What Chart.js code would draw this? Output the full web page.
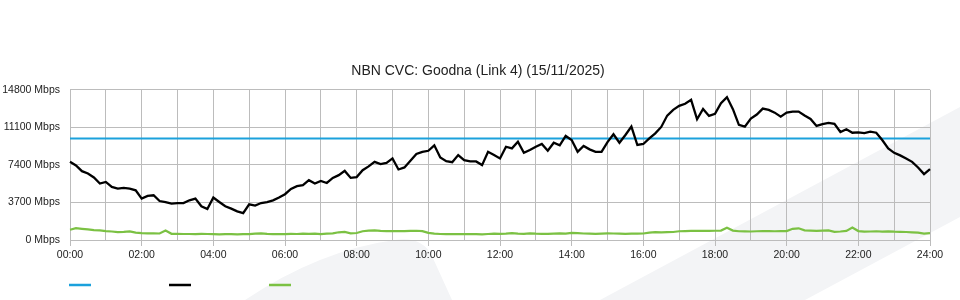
<!DOCTYPE html>
<html>
<head>
<meta charset="utf-8">
<title>NBN CVC: Goodna (Link 4)</title>
<script src="https://cdn.jsdelivr.net/npm/chart.js@4.4.1/dist/chart.umd.min.js"></script>
<style>
    html, body { margin: 0; padding: 0; background: #fff; }
    #wrap { width: 960px; height: 300px; position: relative; }
</style>
</head>
<body>
<div id="wrap"><canvas id="cvcChart"></canvas></div>
<script>
// 10 minute samples, 00:00 -> 24:00
let times = [];
for (let m = 0; m <= 24 * 60; m += 10) {
    times.push(String(Math.floor(m / 60)).padStart(2, '0') + ':' + String(m % 60).padStart(2, '0'));
}

let yTicks = [0, 3700, 7400, 11100, 14800];

// provisioned CVC capacity (Mbps)
let capacity = [{ x: '00:00', y: 10000 }, { x: '24:00', y: 10000 }];

// download traffic (Mbps)
let trafficIn = [
    7700, 7350, 6780, 6550, 6160, 5560, 5720, 5230, 5070, 5130,
    5070, 4900, 4080, 4340, 4410, 3840, 3740, 3580, 3640, 3640,
    3910, 4080, 3320, 3050, 4180, 3740, 3320, 3090, 2820, 2650,
    3520, 3390, 3640, 3740, 3910, 4180, 4510, 5030, 5300, 5400,
    5890, 5560, 5820, 5620, 6120, 6390, 6810, 6120, 6200, 6880,
    7250, 7700, 7480, 7600, 8040, 6950, 7150, 7800, 8470, 8690,
    8790, 9330, 8140, 7770, 7670, 8370, 7870, 7740, 7740, 7380,
    8690, 8370, 8040, 9190, 9030, 9680, 8590, 8860, 9190, 9460,
    8790, 9580, 9330, 10250, 9850, 8690, 9260, 8930, 8690, 8690,
    9650, 10420, 9580, 10350, 11170, 9360, 9460, 10020, 10510, 11140,
    12260, 12820, 13220, 13420, 13810, 11900, 12920, 12230, 12430, 13480,
    14080, 12890, 11340, 11170, 11960, 12360, 12950, 12820, 12550, 12160,
    12550, 12650, 12650, 12260, 11930, 11240, 11410, 11530, 11440, 10640,
    10910, 10570, 10610, 10540, 10670, 10570, 9850, 9030, 8590, 8340,
    8040, 7700, 7150, 6490, 6980
];

// upload traffic (Mbps)
let trafficOut = [
    1010, 1160, 1100, 1040, 980, 940, 880, 840, 780, 800,
    840, 720, 680, 660, 650, 640, 930, 610, 600, 590,
    590, 580, 600, 590, 570, 560, 570, 580, 560, 570,
    580, 620, 660, 600, 570, 580, 570, 600, 590, 620,
    600, 630, 580, 620, 650, 760, 800, 660, 690, 860,
    930, 940, 900, 880, 880, 870, 880, 900, 910, 870,
    700, 620, 590, 580, 570, 580, 590, 580, 570, 560,
    590, 620, 610, 620, 680, 630, 600, 650, 620, 610,
    600, 630, 650, 630, 700, 680, 640, 620, 600, 620,
    650, 640, 620, 610, 620, 630, 640, 720, 770, 760,
    780, 790, 860, 880, 900, 900, 890, 900, 910, 930,
    1200, 930, 860, 850, 840, 860, 880, 870, 860, 870,
    880, 1100, 1150, 950, 920, 900, 930, 940, 800, 840,
    900, 1220, 880, 820, 840, 860, 830, 850, 820, 810,
    790, 760, 720, 620, 680
];

let gridColor = '#bcbcbc';
let textColor = '#222';
let fontFamily = '"Liberation Sans", Arial, Helvetica, sans-serif';

// faint logo swoosh behind the plot
let backdrop = {
    id: 'backdrop',
    beforeDraw: function(chart) {
        let ctx = chart.ctx;
        ctx.save();
        ctx.fillStyle = '#f3f4f6';
        ctx.beginPath();
        ctx.moveTo(245, 300);
        ctx.quadraticCurveTo(320, 250, 395, 240);
        ctx.quadraticCurveTo(422, 236, 432, 256);
        ctx.lineTo(452, 300);
        ctx.closePath();
        ctx.fill();
        ctx.beginPath();
        ctx.moveTo(600, 300);
        ctx.lineTo(960, 107);
        ctx.lineTo(960, 217);
        ctx.lineTo(805, 300);
        ctx.closePath();
        ctx.fill();
        ctx.restore();
    }
};

// legend is just three colour swatches with no text
let swatches = {
    id: 'swatches',
    afterDraw: function(chart) {
        let ctx = chart.ctx;
        let x = chart.chartArea.left - 1;
        ctx.save();
        ctx.lineWidth = 2.5;
        chart.data.datasets.forEach(function(ds, i) {
            ctx.strokeStyle = ds.borderColor;
            ctx.beginPath();
            ctx.moveTo(x + i * 100, 285);
            ctx.lineTo(x + i * 100 + 22, 285);
            ctx.stroke();
        });
        ctx.restore();
    }
};

let ctx = document.getElementById('cvcChart').getContext('2d');
let chart = new Chart(ctx, {
    type: 'line',
    data: {
        labels: times,
        datasets: [
            { data: capacity, borderColor: '#1ba1dc', borderWidth: 2, order: 1 },
            { data: trafficIn, borderColor: '#000000', borderWidth: 2.3, order: 0 },
            { data: trafficOut, borderColor: '#7bc143', borderWidth: 2.2, order: 2 }
        ]
    },
    options: {
        responsive: true,
        maintainAspectRatio: false,
        animation: false,
        events: [],
        layout: { padding: { left: 0, right: 4, top: 0, bottom: 36 } },
        elements: {
            point: { radius: 0 },
            line: { tension: 0 }
        },
        plugins: {
            legend: { display: false },
            tooltip: { enabled: false },
            title: {
                display: true,
                text: 'NBN CVC: Goodna (Link 4) (15/11/2025)',
                color: textColor,
                font: { family: fontFamily, size: 14, weight: 'normal' },
                padding: { top: 63, bottom: 10 }
            }
        },
        scales: {
            x: {
                type: 'category',
                offset: false,
                grid: {
                    color: function(c) { return c.index % 6 === 0 ? gridColor : 'transparent'; },
                    tickColor: function(c) { return c.index % 12 === 0 ? gridColor : 'transparent'; },
                    tickLength: 6,
                    lineWidth: 1
                },
                border: { display: true, color: gridColor },
                ticks: {
                    autoSkip: false,
                    maxRotation: 0,
                    padding: 3,
                    color: textColor,
                    font: { family: fontFamily, size: 10.5 },
                    callback: function(v, i) { return i % 12 === 0 ? times[i] : ''; }
                },
                afterFit: function(s) { s.height = 24; }
            },
            y: {
                min: yTicks[0],
                max: yTicks[yTicks.length - 1],
                afterBuildTicks: function(s) { s.ticks = yTicks.map(function(v) { return { value: v }; }); },
                grid: { color: gridColor, drawTicks: false, lineWidth: 1 },
                border: { display: true, color: gridColor },
                ticks: {
                    padding: 10,
                    color: textColor,
                    font: { family: fontFamily, size: 10.5 },
                    callback: function(v) { return v + ' Mbps'; }
                },
                afterFit: function(s) { s.width = 70; }
            },
            yPad: {
                position: 'right',
                display: true,
                grid: { display: false },
                border: { display: false },
                ticks: { display: false },
                afterFit: function(s) { s.width = 26; }
            }
        }
    },
    plugins: [backdrop, swatches]
});
</script>
</body>
</html>
